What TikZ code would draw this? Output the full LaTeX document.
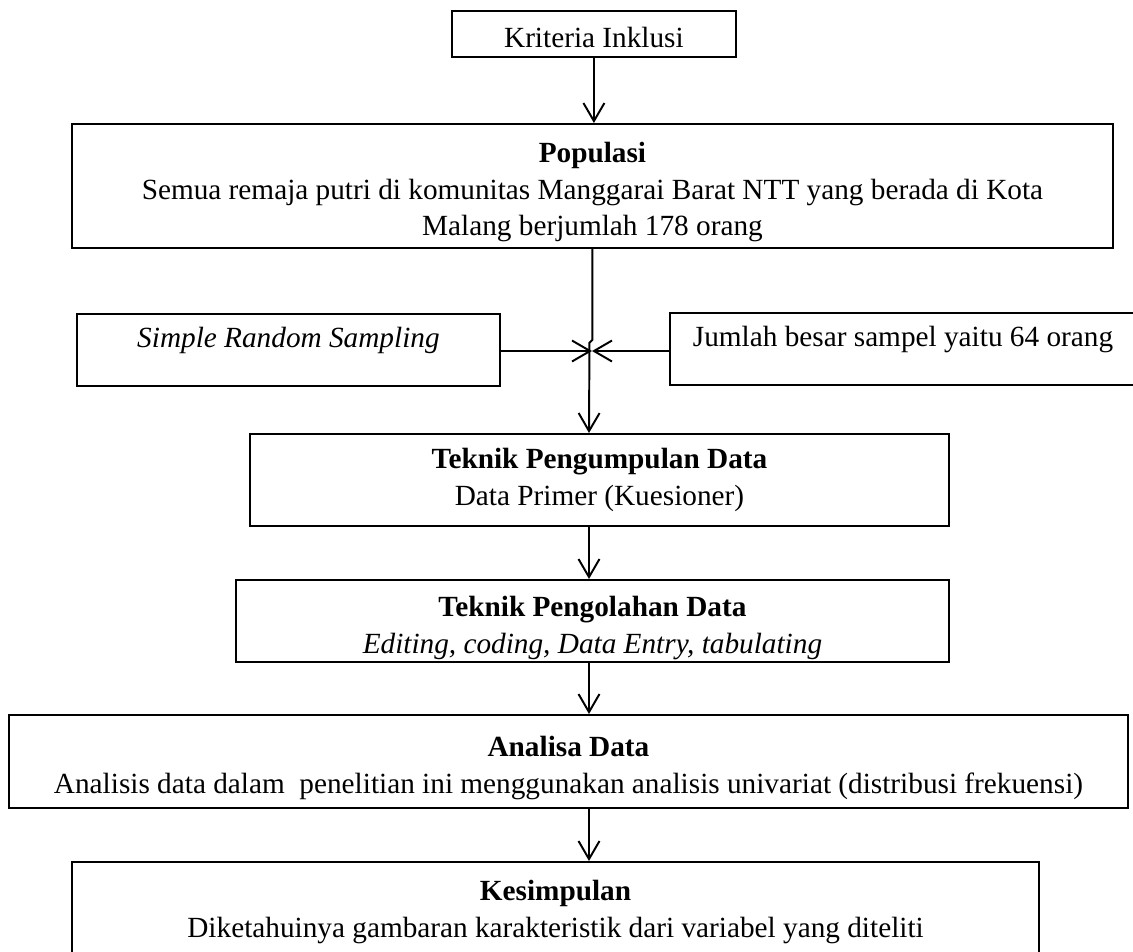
\documentclass[tikz,border=0pt]{standalone}
\usepackage{fontspec}
\setmainfont{Liberation Serif}
\usetikzlibrary{arrows.meta}

\begin{document}
\begin{tikzpicture}[x=0.41pt, y=-0.41pt,
                    box/.style={draw, line width=0.8pt, inner sep=2pt,
                                anchor=north west, align=center,
                                font=\fontsize{12}{15}\selectfont},
                    link/.style={line width=0.8pt},
                    arr/.style={link,
                                -{Straight Barb[length=7.4pt, width=8.6pt, line width=0.8pt]}}]
    \useasboundingbox (0,0) rectangle (1133,951);
    \node[box, minimum width=116.4pt, minimum height=18.9pt] (krit) at (451,10)
        {\rule{0pt}{11pt}Kriteria Inklusi};
    \node[box, minimum width=426.8pt, minimum height=50.8pt] (pop) at (71,123)
        {\rule{0pt}{13.5pt}\textbf{Populasi}\\
         Semua remaja putri di komunitas Manggarai Barat NTT yang berada di Kota\\
         Malang berjumlah 178 orang};
    \node[box, minimum width=173.4pt, minimum height=29.5pt, text depth=10pt] (simple) at (76,313)
        {\textit{Simple Random Sampling}};
    \node[box, minimum width=191.1pt, minimum height=29.5pt, text depth=10pt] (jumlah) at (669,312)
        {Jumlah besar sampel yaitu 64 orang};
    \node[box, minimum width=286.6pt, minimum height=37.7pt] (peng) at (249,433)
        {\textbf{Teknik Pengumpulan Data}\\
         Data Primer (Kuesioner)};
    \node[box, minimum width=292.3pt, minimum height=33.6pt, inner sep=0pt] (olah) at (235,579)
        {\rule{0pt}{14pt}\textbf{Teknik Pengolahan Data}\\
         \textit{Editing, coding, Data Entry, tabulating}};
    \node[box, minimum width=458.8pt, minimum height=38.1pt] (anal) at (8,714)
        {\rule{0pt}{13.5pt}\textbf{Analisa Data}\\
         Analisis data dalam\ \ penelitian ini menggunakan analisis univariat (distribusi frekuensi)};
    \node[box, minimum width=396.5pt, minimum height=41pt] (simp) at (71,861)
        {\textbf{Kesimpulan}\\
         Diketahuinya gambaran karakteristik dari variabel yang diteliti};

    \coordinate (junc) at (592,351);
    \coordinate (spine) at (589,0);
    \draw[arr] (krit.south) -- (krit.south |- pop.north);
    \draw[arr] (pop.south) -- ++(0,91) -- ++(-3,3) -- (spine |- peng.north);
    \draw[arr] (simple.east |- junc) -- (junc);
    \draw[arr] (jumlah.west |- junc) -- (junc);
    \draw[arr] (spine |- peng.south) -- (spine |- olah.north);
    \draw[arr] (spine |- olah.south) -- (spine |- anal.north);
    \draw[arr] (spine |- anal.south) -- (spine |- simp.north);
\end{tikzpicture}
\end{document}
